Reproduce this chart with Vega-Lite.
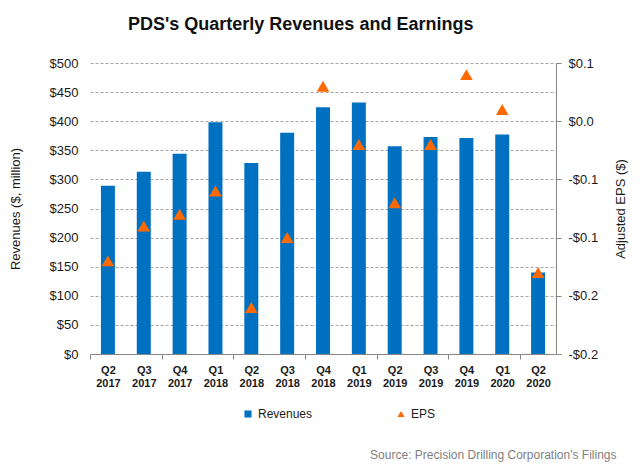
{
  "$schema": "https://vega.github.io/schema/vega-lite/v6.json",
  "autosize": {"type": "none"},
  "width": 466,
  "height": 291,
  "padding": {"left": 90, "right": 84, "top": 63, "bottom": 119},
  "background": "white",
  "title": {
    "text": "PDS's Quarterly Revenues and Earnings",
    "anchor": "start",
    "frame": "group",
    "dx": 38,
    "offset": 9,
    "baseline": "alphabetic",
    "font": "Liberation Sans",
    "fontSize": 18,
    "fontWeight": "bold",
    "color": "#111111"
  },
  "config": {
    "view": {"stroke": null},
    "axis": {
      "labelFont": "Liberation Sans",
      "titleFont": "Liberation Sans",
      "labelColor": "#1a1a1a",
      "titleColor": "#1a1a1a",
      "titleFontWeight": "normal"
    },
    "legend": {"labelFont": "Liberation Sans"}
  },
  "data": {
    "values": [
      {"q": "Q2 2017", "rev": 289, "eps": -0.12},
      {"q": "Q3 2017", "rev": 313, "eps": -0.09},
      {"q": "Q4 2017", "rev": 344, "eps": -0.08},
      {"q": "Q1 2018", "rev": 398, "eps": -0.06},
      {"q": "Q2 2018", "rev": 328, "eps": -0.16},
      {"q": "Q3 2018", "rev": 380, "eps": -0.10},
      {"q": "Q4 2018", "rev": 424, "eps": 0.03},
      {"q": "Q1 2019", "rev": 432, "eps": -0.02},
      {"q": "Q2 2019", "rev": 357, "eps": -0.07},
      {"q": "Q3 2019", "rev": 373, "eps": -0.02},
      {"q": "Q4 2019", "rev": 371, "eps": 0.04},
      {"q": "Q1 2020", "rev": 377, "eps": 0.01},
      {"q": "Q2 2020", "rev": 140, "eps": -0.13}
    ]
  },
  "encoding": {
    "x": {
      "field": "q",
      "type": "nominal",
      "sort": null,
      "scale": {"paddingInner": 0.61, "paddingOuter": 0.305},
      "axis": {
        "title": "Source: Precision Drilling Corporation's Filings",
        "titleX": 526,
        "titleY": 104,
        "titleAlign": "right",
        "titleBaseline": "alphabetic",
        "titleAnchor": "end",
        "titleColor": "#7f7f7f",
        "titleFontSize": 12,
        "titleFontWeight": "normal",
        "labelExpr": "split(datum.label, ' ')",
        "labelAngle": 0,
        "labelFontSize": 11,
        "labelFontWeight": "bold",
        "labelLineHeight": 13,
        "labelPadding": 5,
        "labelOffset": 17.92,
        "tickOffset": -17.92,
        "tickSize": 5,
        "tickColor": "#868686",
        "tickOpacity": {"condition": {"test": "slice(datum.value, 0, 2) === 'Q2' || slice(datum.value, 0, 2) === 'Q4'", "value": 1}, "value": 0},
        "domainColor": "#868686",
        "grid": false
      }
    }
  },
  "layer": [
    {
      "mark": {"type": "bar", "color": "#0070C0"},
      "encoding": {
        "y": {
          "field": "rev",
          "type": "quantitative",
          "scale": {"domain": [0, 500], "nice": false},
          "axis": {
            "title": "Revenues ($, million)",
            "titleFontSize": 13,
            "titlePadding": 27,
            "values": [0, 50, 100, 150, 200, 250, 300, 350, 400, 450, 500],
            "labelExpr": "'$' + datum.value",
            "labelFontSize": 13,
            "labelPadding": 12,
            "ticks": false,
            "domain": false,
            "grid": true,
            "gridColor": "#a6a6a6",
            "gridDash": [3, 2]
          }
        },
        "color": {
          "datum": "Revenues",
          "type": "nominal",
          "scale": {"domain": ["Revenues", "EPS"], "range": ["#0070C0", "#FF6A00"]},
          "legend": {
            "title": null,
            "orient": "none",
            "legendX": 152,
            "legendY": 345,
            "direction": "horizontal",
            "columnPadding": 82,
            "symbolSize": 50,
            "labelFontSize": 12,
            "labelColor": "#1a1a1a",
            "labelOffset": 4,
            "padding": 0,
            "encode": {
              "symbols": {
                "update": {
                  "shape": {"signal": "datum.value === 'EPS' ? 'triangle-up' : 'square'"}
                }
              }
            }
          }
        }
      }
    },
    {
      "mark": {"type": "point", "shape": "triangle-up", "filled": true, "size": 160, "opacity": 1},
      "encoding": {
        "y": {
          "field": "eps",
          "type": "quantitative",
          "scale": {"domain": [-0.2, 0.05], "nice": false},
          "axis": {
            "orient": "right",
            "title": "Adjusted EPS ($)",
            "titleFontSize": 13,
            "titleAngle": 270,
            "titleBaseline": "top",
            "titlePadding": 17,
            "values": [-0.2, -0.15, -0.1, -0.05, 0, 0.05],
            "labelExpr": "(datum.value < -0.0001 ? '-$' : '$') + format(round(abs(datum.value) * 10 + 0.000001) / 10, '.1f')",
            "labelFontSize": 13,
            "labelPadding": 7,
            "tickSize": 5,
            "tickColor": "#868686",
            "domainColor": "#868686",
            "grid": false
          }
        },
        "color": {"datum": "EPS", "type": "nominal"}
      }
    }
  ],
  "resolve": {"scale": {"y": "independent"}}
}
